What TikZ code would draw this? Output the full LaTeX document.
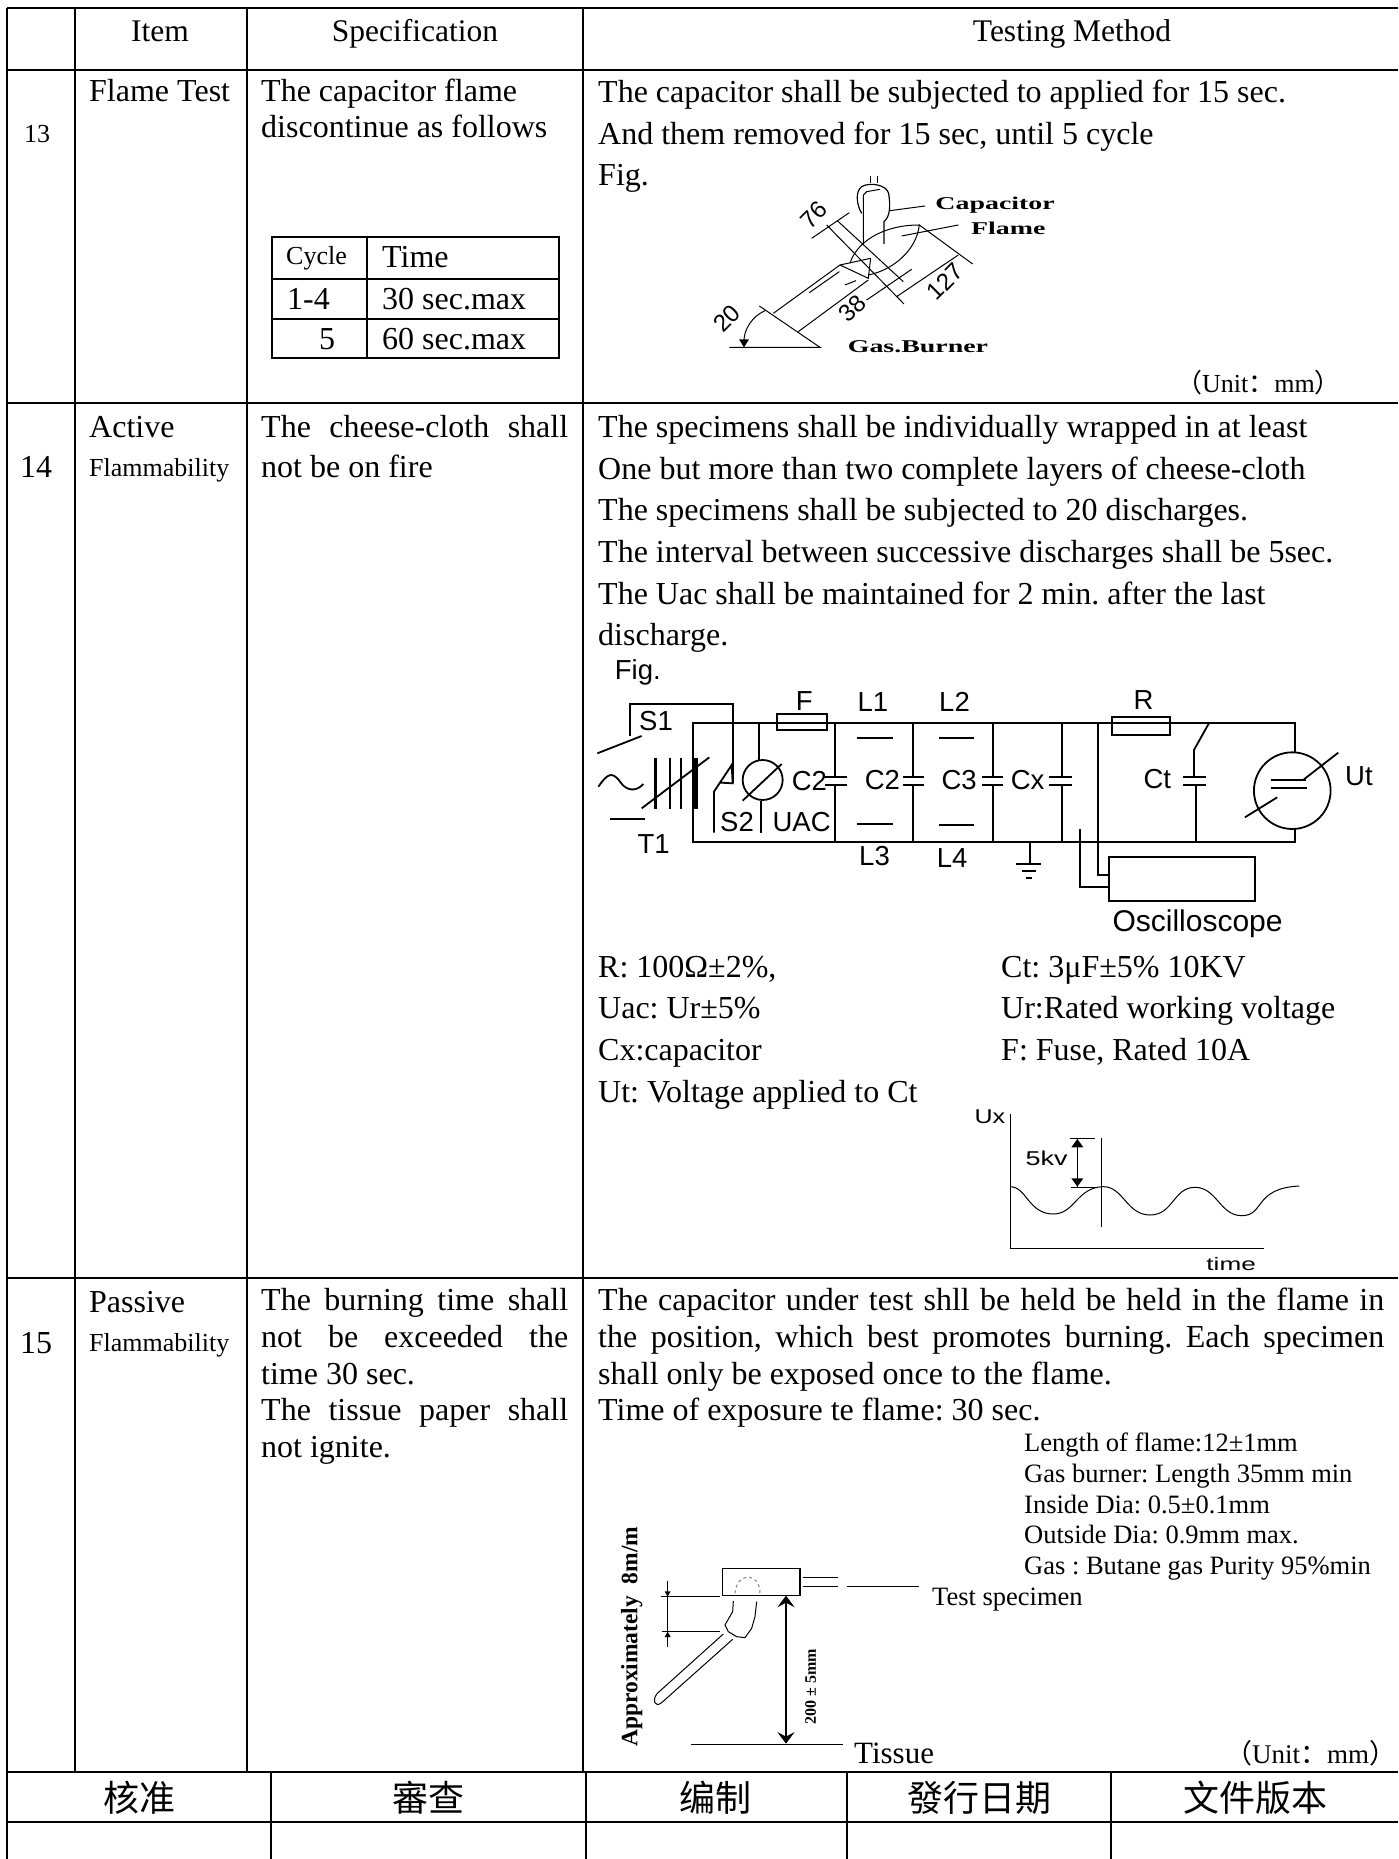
\documentclass[tikz,border=0pt]{standalone}
\usepackage{fontspec}
\setmainfont{Liberation Serif}
\setsansfont{Liberation Sans}
\newfontfamily\cjk{Noto Sans CJK SC}
\newcommand{\fs}[1]{\fontsize{#1}{#1}\selectfont}
\frenchspacing

\begin{document}
\begin{tikzpicture}[x=1pt,y=-1pt]
\tikzstyle{every node}+=[inner sep=0pt]
\tikzstyle{body}=[anchor=base west,font=\fs{32}]
\tikzstyle{head}=[anchor=base,font=\fs{31.5}]
\tikzstyle{small}=[anchor=base west,font=\fs{26.5}]
\tikzstyle{narrow}=[anchor=base west,font=\fs{26}]
\tikzstyle{sans}=[anchor=base west,font=\sffamily\fs{27.5}]
\tikzstyle{foot}=[anchor=base,font=\cjk\fs{36}]
\tikzstyle{rule}=[line width=2.4pt]
\tikzstyle{wire}=[line width=1.8pt]
\useasboundingbox (0,0) rectangle (1398,1859);
\draw [rule] (7,8) -- (1398,8);
\draw [rule] (7,70) -- (1398,70);
\draw [rule] (7,403) -- (1398,403);
\draw [rule] (7,1278) -- (1398,1278);
\draw [rule] (7,1772) -- (1398,1772);
\draw [rule] (7,1822) -- (1398,1822);
\draw [rule] (7,8) -- (7,1859);
\draw [rule] (75,8) -- (75,1772);
\draw [rule] (247,8) -- (247,1772);
\draw [rule] (583,8) -- (583,1772);
\draw [rule] (271,1772) -- (271,1859);
\draw [rule] (586,1772) -- (586,1859);
\draw [rule] (847,1772) -- (847,1859);
\draw [rule] (1111,1772) -- (1111,1859);
\node [head] (item) at (160,42) {Item};
\node [head] (spec) at (415,42) {Specification};
\node [head] (method) at (1072,42) {Testing Method};
\node [anchor=base west,font=\fs{26}] (n13) at (24,143) {13};
\node [body] (n14) at (20,477) {14};
\node [body] (n15) at (20,1353) {15};
\node [body] (flame) at (89,102) {Flame Test};
\node [body] (active) at (89,437) {Active};
\node [narrow] (flam14) at (89,476) {Flammability};
\node [body] (passive) at (89,1312) {Passive};
\node [narrow] (flam15) at (89,1351) {Flammability};
\node [body] (sa1) at (261,102) {The capacitor flame};
\node [body] (sa2) at (261,138) {discontinue as follows};
\draw [line width=1.8pt] (272,237) rectangle (559,358);
\draw [line width=1.8pt] (367,237) -- (367,358);
\draw [line width=1.8pt] (272,279) -- (559,279);
\draw [line width=1.8pt] (272,319) -- (559,319);
\node [anchor=base west,font=\fs{26}] (cycle) at (286,265) {Cycle};
\node [body] (time) at (382,268) {Time};
\node [body] (c1) at (287,310) {1-4};
\node [body] (t1) at (382,310) {30 sec.max};
\node [body] (c2) at (319,349) {5};
\node [body] (t2) at (382,349) {60 sec.max};
\node [body] (ma1) at (598,103) {The capacitor shall be subjected to applied for 15 sec.};
\node [body] (ma2) at (598,145) {And them removed for 15 sec, until 5 cycle};
\node [body] (ma3) at (598,186) {Fig.};
\node [anchor=base west,font=\fs{26}] (unita) at (1176,392) {{\cjk（}Unit{\cjk：}mm{\cjk）}};
\begin{scope}[shift={(600,150)},x=0.3333pt,y=-0.3333pt,line width=1pt]
\draw (812,78) -- (812,100);
\draw (832,78) -- (832,100);
\draw [line width=1.2pt] (852,282) -- (852,215) .. controls (870,200) and (872,170) .. (866,130) .. controls (860,105) and (810,95) .. (785,110) .. controls (765,125) and (770,165) .. (785,190);
\draw (790,280) -- (790,135) -- (800,125) -- (840,118);
\draw (870,182) -- (975,168);
\node [anchor=base west,font=\fs{18}\bfseries] (capacitor) at (1005,178) {\scalebox{1.55}[1]{Capacitor}};
\node [anchor=base west,font=\fs{18}\bfseries] (flamelab) at (1112,255) {\scalebox{1.55}[1]{Flame}};
\node [anchor=base west,font=\fs{18}\bfseries] (burner) at (742,608) {\scalebox{1.55}[1]{Gas.Burner}};
\draw (750,340) .. controls (770,275) and (850,225) .. (958,225) .. controls (950,300) and (880,360) .. (805,375);
\draw (905,258) -- (1075,225);
\draw (520,490) -- (720,345) -- (812,325);
\draw (720,345) -- (805,385) -- (812,325);
\draw (595,545) -- (805,390);
\draw (628,428) -- (718,365);
\draw (735,405) -- (768,392);
\draw (478,468) -- (660,592) -- (388,592);
\draw (495,482) .. controls (455,500) and (432,540) .. (432,572);
\fill (417,568) -- (447,568) -- (432,592) -- cycle;
\draw (635,265) -- (748,188);
\draw (680,225) -- (912,462);
\draw (712,212) -- (910,395);
\draw (800,450) -- (935,358);
\draw (890,440) -- (1075,315);
\draw (958,225) -- (1118,342);
\node [rotate=45,font=\sffamily\fs{24}] (d76) at (642,195) {76};
\node [rotate=45,font=\sffamily\fs{24}] (d38) at (757,475) {38};
\node [rotate=45,font=\sffamily\fs{24}] (d127) at (1035,395) {127};
\node [rotate=45,font=\sffamily\fs{24}] (d20) at (380,505) {20};
\end{scope}
\node [body] (mb1) at (598,437) {The specimens shall be individually wrapped in at least};
\node [body] (mb2) at (598,479) {One but more than two complete layers of cheese-cloth};
\node [body] (mb3) at (598,520) {The specimens shall be subjected to 20 discharges.};
\node [body] (mb4) at (598,562) {The interval between successive discharges shall be 5sec.};
\node [body] (mb5) at (598,604) {The Uac shall be maintained for 2 min. after the last};
\node [body] (mb6) at (598,645) {discharge.};
\node [body] (sb1) at (261,437) {\makebox[307pt][s]{The cheese-cloth shall}};
\node [body] (sb2) at (261,477) {not be on fire};
\begin{scope}[shift={(590,660)},x=0.3333pt,y=-0.3333pt,wire]
\node [sans] (figb) at (72,58) {Fig.};
\node [sans] (lf) at (615,150) {F};
\node [sans] (ll1) at (800,155) {L1};
\node [sans] (ll2) at (1045,155) {L2};
\node [sans] (ls1) at (145,212) {S1};
\node [sans] (lc1) at (603,392) {C2};
\node [sans] (lc2) at (822,388) {C2};
\node [sans] (lc3) at (1052,388) {C3};
\node [sans] (lcx) at (1260,390) {Cx};
\node [sans] (ls2) at (388,515) {S2};
\node [sans] (luac) at (545,515) {UAC};
\node [sans] (lt1) at (140,582) {T1};
\node [sans] (ll3) at (805,618) {L3};
\node [sans] (ll4) at (1038,622) {L4};
\node [sans] (lr) at (1628,148) {R};
\node [sans] (lct) at (1658,385) {Ct};
\node [sans] (lut) at (2263,377) {Ut};
\node [anchor=base west,font=\sffamily\fs{30}] (scope) at (1565,815) {Oscilloscope};
\draw (120,228) -- (120,132) -- (428,132) -- (428,370);
\draw (22,280) -- (155,228);
\draw (308,188) rectangle (2115,545);
\draw (2115,188) -- (2115,275);
\draw (2115,508) -- (2115,545);
\draw [fill=white] (2107,392) circle (115);
\draw (25,380) .. controls (50,345) and (65,330) .. (90,365) .. controls (110,395) and (140,395) .. (160,372);
\draw (60,478) -- (165,478);
\draw [line width=2.4pt] (197,293) -- (197,448);
\draw (240,293) -- (240,448);
\draw (272,293) -- (272,448);
\draw [line width=5pt] (316,295) -- (316,448);
\draw (155,445) -- (358,292);
\draw (372,518) -- (372,395) -- (425,315) -- (428,370) -- (392,368);
\draw (508,188) -- (508,300);
\draw (518,360) circle (60);
\draw (458,422) -- (575,312);
\draw (512,422) -- (512,520);
\draw [fill=white] (560,163) rectangle (712,210);
\draw (560,188) -- (712,188);
\draw (735,188) -- (735,352);
\draw (705,352) -- (770,352);
\draw (705,375) -- (770,375);
\draw (735,375) -- (735,545);
\draw (970,188) -- (970,352);
\draw (938,352) -- (1003,352);
\draw (938,375) -- (1003,375);
\draw (970,375) -- (970,545);
\draw (1208,188) -- (1208,352);
\draw (1177,352) -- (1240,352);
\draw (1177,375) -- (1240,375);
\draw (1208,375) -- (1208,545);
\draw (1415,188) -- (1415,352);
\draw (1377,352) -- (1445,352);
\draw (1377,375) -- (1445,375);
\draw (1415,375) -- (1415,545);
\draw (1858,188) -- (1812,270) -- (1812,350);
\draw (1780,350) -- (1848,350);
\draw (1780,375) -- (1848,375);
\draw (1817,375) -- (1817,545);
\draw (802,233) -- (908,233);
\draw (1047,233) -- (1153,233);
\draw (802,492) -- (908,492);
\draw (1047,494) -- (1153,494);
\draw (1525,188) -- (1525,645) -- (1558,645);
\draw (1471,508) -- (1471,680) -- (1558,680);
\draw (1558,590) rectangle (1995,722);
\draw (1320,545) -- (1320,612);
\draw (1278,612) -- (1352,612);
\draw (1295,632) -- (1338,632);
\draw (1308,654) -- (1325,654);
\draw [fill=white] (1565,170) rectangle (1740,226);
\draw (1565,188) -- (1740,188);
\draw (2042,360) -- (2148,360);
\draw (2042,385) -- (2150,385);
\draw (1965,472) -- (2062,412);
\draw (2142,358) -- (2245,278);
\end{scope}
\node [body] (ra) at (598,977) {R: 100Ω±2\%,};
\node [body] (rb) at (598,1018) {Uac: Ur±5\%};
\node [body] (rc) at (598,1060) {Cx:capacitor};
\node [body] (rd) at (598,1102) {Ut: Voltage applied to Ct};
\node [body] (re) at (1001,977) {Ct: 3μF±5\% 10KV};
\node [body] (rf) at (1001,1018) {Ur:Rated working voltage};
\node [body] (rg) at (1001,1060) {F: Fuse, Rated 10A};
\begin{scope}[shift={(960,1090)},x=0.3333pt,y=-0.3333pt,line width=1pt]
\node [anchor=base west,font=\sffamily\fs{20}] (ux) at (42,100) {\scalebox{1.25}[1]{Ux}};
\node [anchor=base west,font=\sffamily\fs{20}] (kv) at (195,225) {\scalebox{1.35}[1]{5kv}};
\node [anchor=base west,font=\sffamily\fs{18}] (timelab) at (738,543) {\scalebox{1.45}[1]{time}};
\draw (150,72) -- (150,475) -- (912,475);
\draw (150,290) .. controls (200,290) and (205,372) .. (280,372) .. controls (345,372) and (350,292) .. (430,290) .. controls (490,290) and (500,375) .. (570,375) .. controls (640,375) and (640,292) .. (705,292) .. controls (770,292) and (780,377) .. (845,377) .. controls (915,377) and (880,295) .. (1018,288);
\draw (425,145) -- (425,412);
\draw (330,145) -- (405,145);
\draw (333,292) -- (415,292);
\draw (352,147) -- (352,290);
\fill (352,147) -- (334,172) -- (370,172) -- cycle;
\fill (352,290) -- (334,265) -- (370,265) -- cycle;
\end{scope}
\node [body] (mc1) at (598,1310) {\makebox[786pt][s]{The capacitor under test shll be held be held in the flame in}};
\node [body] (mc2) at (598,1347) {\makebox[786pt][s]{the position, which best promotes burning. Each specimen}};
\node [body] (mc3) at (598,1384) {shall only be exposed once to the flame.};
\node [body] (mc4) at (598,1420) {Time of exposure te flame: 30 sec.};
\node [body] (sc1) at (261,1310) {\makebox[307pt][s]{The burning time shall}};
\node [body] (sc2) at (261,1347) {\makebox[307pt][s]{not be exceeded the}};
\node [body] (sc3) at (261,1384) {time 30 sec.};
\node [body] (sc4) at (261,1420) {\makebox[307pt][s]{The tissue paper shall}};
\node [body] (sc5) at (261,1457) {not ignite.};
\node [small] (ga) at (1024,1451) {Length of flame:12±1mm};
\node [small] (gb) at (1024,1482) {Gas burner: Length 35mm min};
\node [small] (gc) at (1024,1513) {Inside Dia: 0.5±0.1mm};
\node [small] (gd) at (1024,1543) {Outside Dia: 0.9mm max.};
\node [small] (ge) at (1024,1574) {Gas : Butane gas Purity 95\%min};
\node [small] (test) at (932,1605) {Test specimen};
\node [anchor=base west,font=\fs{31}] (tissue) at (854,1763) {Tissue};
\node [anchor=base west,font=\fs{27}] (unitb) at (1225,1763) {{\cjk（}Unit{\cjk：}mm{\cjk）}};
\begin{scope}[shift={(600,1500)},x=0.3333pt,y=-0.3333pt,line width=1pt]
\draw [line width=1.4pt] (367,205) rectangle (600,287);
\draw [gray,dashed] (405,280) .. controls (410,215) and (480,215) .. (480,280);
\draw (610,233) -- (715,233);
\draw (610,258) -- (715,258);
\draw (740,258) -- (958,258);
\draw [line width=1.4pt] (558,290) -- (558,728);
\fill (558,287) -- (532,322) -- (558,308) -- (584,322) -- cycle;
\fill (558,731) -- (532,696) -- (558,710) -- (584,696) -- cycle;
\draw [line width=1.4pt] (272,733) -- (730,733);
\node [rotate=90,font=\bfseries\fs{16}] (dist) at (632,560) {200 ± 5mm};
\node [rotate=90,anchor=base west,font=\bfseries\fs{23.5}] (approx) at (112,742) {Approximately\ \ 8m/m};
\draw (203,242) -- (203,440);
\draw (182,290) -- (360,290);
\draw (185,395) -- (360,395);
\fill (203,290) -- (194,274) -- (212,274) -- cycle;
\fill (203,395) -- (194,411) -- (212,411) -- cycle;
\draw (400,303) -- (398,335) -- (375,375) -- (385,395) -- (410,410) -- (435,413) -- (455,385) -- (465,350) -- (470,305);
\draw (370,402) -- (172,580) .. controls (155,600) and (165,625) .. (185,608) -- (398,418);
\end{scope}
\node [foot] (fa) at (139,1811) {核准};
\node [foot] (fb) at (428,1811) {審查};
\node [foot] (fc) at (715,1811) {编制};
\node [foot] (fd) at (979,1811) {發行日期};
\node [foot] (fe) at (1255,1811) {文件版本};
\end{tikzpicture}
\end{document}
